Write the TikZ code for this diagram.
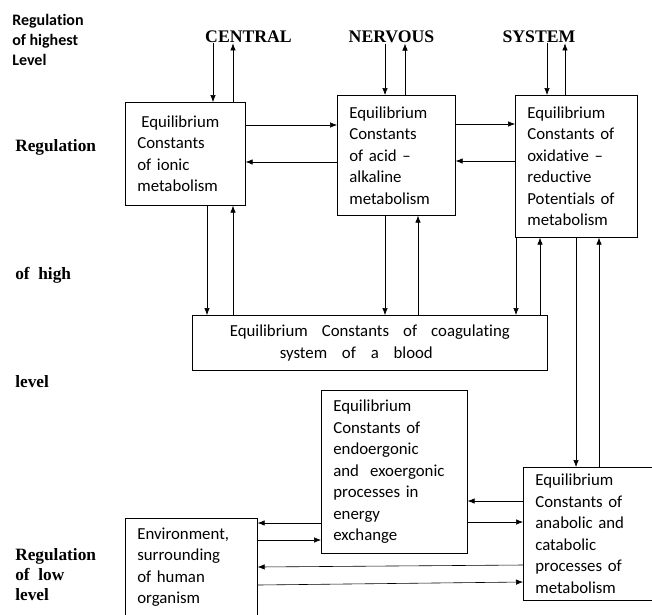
\documentclass[tikz,border=0pt]{standalone}
\usepackage{fontspec}
\setmainfont{Carlito}[Ligatures=NoCommon]
\newfontfamily\labfont{Liberation Serif}
\usetikzlibrary{arrows.meta}

\tikzset{
  eqbox/.style={draw, line width=0.7pt, anchor=north west, align=left, inner xsep=12pt, inner ysep=0pt,
    font=\fontsize{16.8}{21.5}\selectfont},
  levtext/.style={inner sep=0pt, align=left, font=\labfont\bfseries\fontsize{17.3}{20}\selectfont},
  cnstext/.style={anchor=base, inner sep=1pt, font=\labfont\bfseries\fontsize{17.7}{20}\selectfont},
  toptext/.style={anchor=north west, inner sep=0pt, align=left, font=\bfseries\fontsize{16}{20}\selectfont},
}

\begin{document}
\begin{tikzpicture}[x=1pt,y=-1pt,>={Latex[length=7pt,width=5.5pt]},line width=0.6pt]
    \useasboundingbox (0,0) rectangle (652,614);

    % level labels on the left
    \node[toptext] (tophigh) at (12,14) {Regulation\\of highest\\Level};
    \node[levtext,anchor=base west] (reg1) at (15,151) {Regulation};
    \node[levtext,anchor=base west] (reg2) at (15,279) {of\ \ high};
    \node[levtext,anchor=base west] (reg3) at (15,387) {level};
    \node[levtext,anchor=north west] (reglow) at (15,548) {Regulation\\of\ \ low\\level};

    % central nervous system
    \node[cnstext] (central) at (248.5,42) {CENTRAL};
    \node[cnstext] (nervous) at (391.5,42) {NERVOUS};
    \node[cnstext] (system) at (539,42) {SYSTEM};

    % boxes of the high level
    \node[eqbox, text width=96pt, minimum height=103pt] (ionic) at (125,102)
        {\hspace*{4pt}Equilibrium\\Constants\\of ionic\\metabolism};
    \node[eqbox, text width=94pt, minimum height=120pt] (acid) at (337,95)
        {Equilibrium\\Constants\\of acid --\\alkaline\\metabolism};
    \node[eqbox, text width=98pt, minimum height=142pt] (oxid) at (515,95)
        {Equilibrium\\Constants of\\oxidative --\\reductive\\Potentials of\\metabolism};
    \node[eqbox, text width=280pt, inner xsep=37.5pt, minimum height=55pt] (blood) at (192,315)
        {\makebox[280pt][l]{Equilibrium\hfill Constants\hfill of\hfill coagulating}\\
         \hspace*{50pt}\makebox[153pt][l]{system\hfill of\hfill a\hfill blood}};

    % boxes of the low level
    \node[eqbox, text width=122pt, minimum height=163pt] (endo) at (321,390)
        {Equilibrium\\Constants of\\endoergonic\\and\ \ exoergonic\\processes in\\energy\\exchange};
    \node[eqbox, text width=113pt, minimum height=133pt] (anab) at (523,467)
        {Equilibrium\\Constants of\\anabolic and\\catabolic\\processes of\\metabolism};
    \node[eqbox, text width=108pt, minimum height=98pt] (env) at (125,518)
        {Environment,\\surrounding\\of human\\organism};

    % central nervous system to the boxes
    \draw[->] (central.south -| 213,0) -- (ionic.north -| 213,0);
    \draw[->] (ionic.north -| 233,0) -- (central.south -| 233,0);
    \draw[->] (nervous.south -| 385,0) -- (acid.north -| 385,0);
    \draw[->] (acid.north -| 405,0) -- (nervous.south -| 405,0);
    \draw[->] (system.south -| 547,0) -- (oxid.north -| 547,0);
    \draw[->] (oxid.north -| 565,0) -- (system.south -| 565,0);

    % between the boxes of the high level
    \draw[->] (ionic.east |- 0,125) -- (acid.west |- 0,125);
    \draw[->] (acid.west |- 0,162) -- (ionic.east |- 0,162);
    \draw[->] (acid.east |- 0,124) -- (oxid.west |- 0,124);
    \draw[->] (oxid.west |- 0,161) -- (acid.east |- 0,161);

    % to the coagulating system
    \draw[->] (ionic.south -| 207,0) -- (blood.north -| 207,0);
    \draw[->] (blood.north -| 233,0) -- (ionic.south -| 233,0);
    \draw[->] (acid.south -| 385,0) -- (blood.north -| 385,0);
    \draw[->] (blood.north -| 418,0) -- (acid.south -| 418,0);
    \draw[->] (oxid.south -| 516,0) -- (blood.north -| 516,0);
    \draw[->] (blood.north -| 540,0) -- (oxid.south -| 540,0);

    % oxidative to anabolic
    \draw[->] (oxid.south -| 576,0) -- (anab.north -| 576,0);
    \draw[->] (anab.north -| 599,0) -- (oxid.south -| 599,0);

    % low level
    \draw[->] (anab.west |- 0,501) -- (endo.east |- 0,501);
    \draw[->] (endo.east |- 0,522) -- (anab.west |- 0,522);
    \draw[->] (endo.west |- 0,523) -- (env.east |- 0,523);
    \draw[->] (env.east |- 0,540) -- (endo.west |- 0,540);
    \draw[->] (anab.west |- 0,565) -- (env.east |- 0,567);
    \draw[->] (env.east |- 0,585) -- (anab.west |- 0,582);
\end{tikzpicture}
\end{document}
